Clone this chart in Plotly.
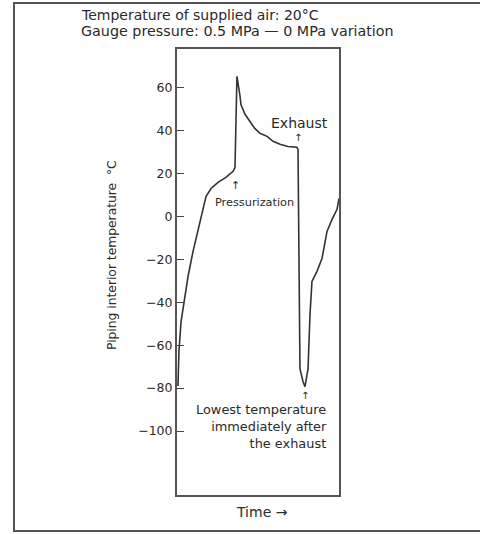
import plotly.graph_objects as go

# Time (arbitrary units, 0-100 across the plot) and piping interior temperature (°C)
time = [0.6, 1.2, 2.5, 4.3, 6.8, 9.9, 13.0, 15.4, 17.9, 21.0, 25.3, 30.2, 34.6, 35.8,
        36.4, 37.0, 38.9, 39.5, 42.0, 45.0, 48.0, 51.2, 55.6, 59.3, 63.6, 68.5, 74.0,
        74.7, 75.3, 75.9, 77.8, 79.0, 80.9, 82.1, 83.3, 86.4, 89.5, 92.6, 95.7, 98.8, 100.0]
temp = [-79, -63, -49, -39.6, -28, -16.3, -6, 2.3, 9.3, 13, 15.9, 18.2, 21, 22.8,
        53.6, 65.3, 56, 52, 47.6, 44.3, 41, 38.7, 37.3, 35, 33.6, 32.6, 32.2,
        31.2, -16.3, -70.9, -77, -79.3, -70.9, -45.7, -30.3, -25.6, -19.6, -7, -1.4, 3.3, 8.4]

y_ticks = [60, 40, 20, 0, -20, -40, -60, -80, -100]

FONT = "DejaVu Sans"
INK = "#2a2a2a"

fig = go.Figure()
fig.add_trace(go.Scatter(x=time, y=temp, mode="lines",
                         line=dict(color="#333333", width=1.6), hoverinfo="skip"))

W, H = 480, 534
x0, x1 = 177 / W, 339 / W
y0, y1 = 1 - 495 / H, 1 - 49 / H

fig.update_layout(
    width=W, height=H,
    margin=dict(l=0, r=0, t=0, b=0),
    paper_bgcolor="white", plot_bgcolor="white",
    showlegend=False,
    font=dict(family=FONT, size=12, color=INK),
    xaxis=dict(domain=[x0, x1], range=[0, 100], showticklabels=False, ticks="",
               showgrid=False, zeroline=False, showline=True, mirror=True,
               linecolor="#555555", linewidth=2),
    yaxis=dict(domain=[y0, y1], range=[-129.8, 78.0], tickvals=y_ticks,
               ticks="inside", ticklen=7, tickwidth=1.2, tickcolor="#444444",
               showgrid=False, zeroline=False, showline=True, mirror=True,
               linecolor="#555555", linewidth=2,
               tickfont=dict(family=FONT, size=12.5, color=INK)),
)

def px(x):
    return x / W

def py(y):
    return 1 - y / H

anns = [
    dict(text="Temperature of supplied air: 20°C", x=px(79), y=py(15), xanchor="left",
         yanchor="middle", font=dict(size=14)),
    dict(text="Gauge pressure: 0.5 MPa — 0 MPa variation", x=px(79), y=py(31),
         xanchor="left", yanchor="middle", font=dict(size=14.3)),
    dict(text="Piping interior temperature  °C", x=px(112), y=py(255), textangle=-90,
         xanchor="center", yanchor="middle", font=dict(size=12.3)),
    dict(text="Time →", x=px(262), y=py(512), xanchor="center", yanchor="middle",
         font=dict(size=14)),
    dict(text="Exhaust", x=px(299), y=py(123), xanchor="center", yanchor="middle",
         font=dict(size=14)),
    dict(text="↑", x=px(298), y=py(137), xanchor="center", yanchor="middle",
         font=dict(size=10)),
    dict(text="↑", x=px(235), y=py(185), xanchor="center", yanchor="middle",
         font=dict(size=11)),
    dict(text="Pressurization", x=px(254), y=py(202), xanchor="center", yanchor="middle",
         font=dict(size=11.3)),
    dict(text="↑", x=px(305), y=py(395), xanchor="center", yanchor="middle",
         font=dict(size=10)),
    dict(text="Lowest temperature<br>immediately after<br>the exhaust", x=px(329),
         y=py(426), xanchor="right", yanchor="middle", align="right",
         font=dict(size=12.9)),
]
for a in anns:
    a.update(xref="paper", yref="paper", showarrow=False)
    fig.add_annotation(**a)

# outer frame of the figure
fig.add_shape(type="rect", xref="paper", yref="paper", x0=px(14), y0=py(531),
              x1=px(484), y1=py(3), line=dict(color="#555555", width=2))

fig.write_html("out.html", config={"displayModeBar": False},
               post_script="document.body.style.margin='0';")
